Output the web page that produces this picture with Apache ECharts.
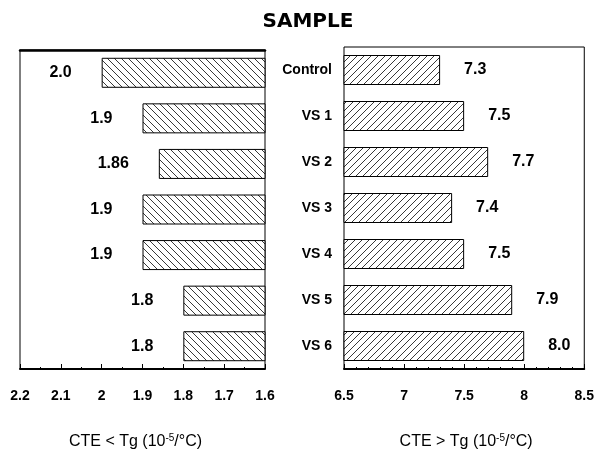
<!DOCTYPE html>
<html><head><meta charset="utf-8">
<script src="https://cdn.jsdelivr.net/npm/echarts@6/dist/echarts.min.js"></script>
<style>html,body{margin:0;padding:0;background:#fff}#c{width:597px;height:455px}</style>
</head><body><div id="c"></div>
<script>
const categories = ['Control','VS 1','VS 2','VS 3','VS 4','VS 5','VS 6'];
const belowTg = [2.0, 1.9, 1.86, 1.9, 1.9, 1.8, 1.8];
const belowLabels = ['2.0','1.9','1.86','1.9','1.9','1.8','1.8'];
const aboveTg = [7.3, 7.5, 7.7, 7.4, 7.5, 7.9, 8.0];
const aboveLabels = ['7.3','7.5','7.7','7.4','7.5','7.9','8.0'];
const titleText = 'SAMPLE';

function hatch(dir){
  const s = 7, c = document.createElement('canvas');
  c.width = s; c.height = s;
  const g = c.getContext('2d');
  g.fillStyle = '#fff'; g.fillRect(0,0,s,s);
  g.strokeStyle = '#222'; g.lineWidth = 0.9;
  g.beginPath();
  if (dir === 'back') {
    g.moveTo(-1,-1); g.lineTo(s+1,s+1);
    g.moveTo(-1,s-1); g.lineTo(1,s+1);
    g.moveTo(s-1,-1); g.lineTo(s+1,1);
  } else {
    g.moveTo(-1,s+1); g.lineTo(s+1,-1);
    g.moveTo(-1,1); g.lineTo(1,-1);
    g.moveTo(s-1,s+1); g.lineTo(s+1,s-1);
  }
  g.stroke();
  return c;
}

const font = '"Liberation Sans", Arial, sans-serif';
const nameRich = {
  a: {fontFamily: font, fontSize: 16, color: '#000'},
  s: {fontFamily: font, fontSize: 10, color: '#000', verticalAlign: 'top', padding: [0,0,8,0]}
};

const chart = echarts.init(document.getElementById('c'));
chart.setOption({
  backgroundColor: '#fff',
  animation: false,
  title: {text: titleText, left: 303, top: 7, textAlign: 'center',
    textStyle: {fontFamily: '"DejaVu Sans", sans-serif', fontSize: 20, fontWeight: 'bold', color: '#000'}},
  grid: [
    {left: 20, width: 245, top: 50, height: 327, show: true, borderColor: '#000', borderWidth: 1},
    {left: 344, width: 241, top: 47, height: 330, show: true, borderColor: '#000', borderWidth: 1}
  ],
  xAxis: [
    {gridIndex: 0, type: 'value', min: 1.6, max: 2.2, interval: 0.1, inverse: true,
      axisLine: {show: true, lineStyle: {color: '#000', width: 2}},
      axisTick: {show: true, inside: true, length: 5, lineStyle: {color: '#000'}},
      minorTick: {show: true, splitNumber: 2, length: 2, lineStyle: {color: '#000'}},
      splitLine: {show: false},
      axisLabel: {fontFamily: font, fontSize: 14, fontWeight: 'bold', color: '#000', margin: 20},
      name: '{a|CTE < Tg (10}{s|-5}{a|/°C)}', nameLocation: 'middle', nameGap: 64,
      nameTextStyle: {rich: nameRich, padding: [0, 14, 0, 0]}},
    {gridIndex: 0, type: 'value', position: 'top', min: 1.6, max: 2.2, inverse: true,
      axisLine: {show: true, lineStyle: {color: '#000', width: 2.5}},
      axisTick: {show: false}, axisLabel: {show: false}, splitLine: {show: false}},
    {gridIndex: 1, type: 'value', min: 6.5, max: 8.5, interval: 0.5,
      axisLine: {show: true, lineStyle: {color: '#000', width: 2}},
      axisTick: {show: true, inside: true, length: 5, lineStyle: {color: '#000'}},
      minorTick: {show: true, splitNumber: 5, length: 2, lineStyle: {color: '#000'}},
      splitLine: {show: false},
      axisLabel: {fontFamily: font, fontSize: 14, fontWeight: 'bold', color: '#000', margin: 20},
      name: '{a|CTE > Tg (10}{s|-5}{a|/°C)}', nameLocation: 'middle', nameGap: 64,
      nameTextStyle: {rich: nameRich, padding: [0, 0, 0, 4]}}
  ],
  yAxis: [
    {gridIndex: 0, type: 'category', data: categories, inverse: true, position: 'right',
      axisLine: {show: false}, axisTick: {show: false}, axisLabel: {show: false}},
    {gridIndex: 1, type: 'category', data: categories, inverse: true, position: 'left',
      axisLine: {show: false}, axisTick: {show: false},
      axisLabel: {fontFamily: font, fontSize: 14, fontWeight: 'bold', color: '#000', margin: 12}}
  ],
  series: [
    {type: 'bar', xAxisIndex: 0, yAxisIndex: 0, data: belowTg, barWidth: 30, clip: true,
      itemStyle: {color: {image: hatch('back'), repeat: 'repeat'}, borderColor: '#000', borderWidth: 1},
      label: {show: true, position: 'left', distance: 30, fontFamily: font, fontSize: 16, fontWeight: 'bold',
        color: '#000', formatter: p => belowLabels[p.dataIndex]}},
    {type: 'bar', xAxisIndex: 2, yAxisIndex: 1, data: aboveTg, barWidth: 30, clip: true,
      itemStyle: {color: {image: hatch('fwd'), repeat: 'repeat'}, borderColor: '#000', borderWidth: 1},
      label: {show: true, position: 'right', distance: 24, fontFamily: font, fontSize: 16, fontWeight: 'bold',
        color: '#000', formatter: p => aboveLabels[p.dataIndex]}}
  ]
});
</script></body></html>
